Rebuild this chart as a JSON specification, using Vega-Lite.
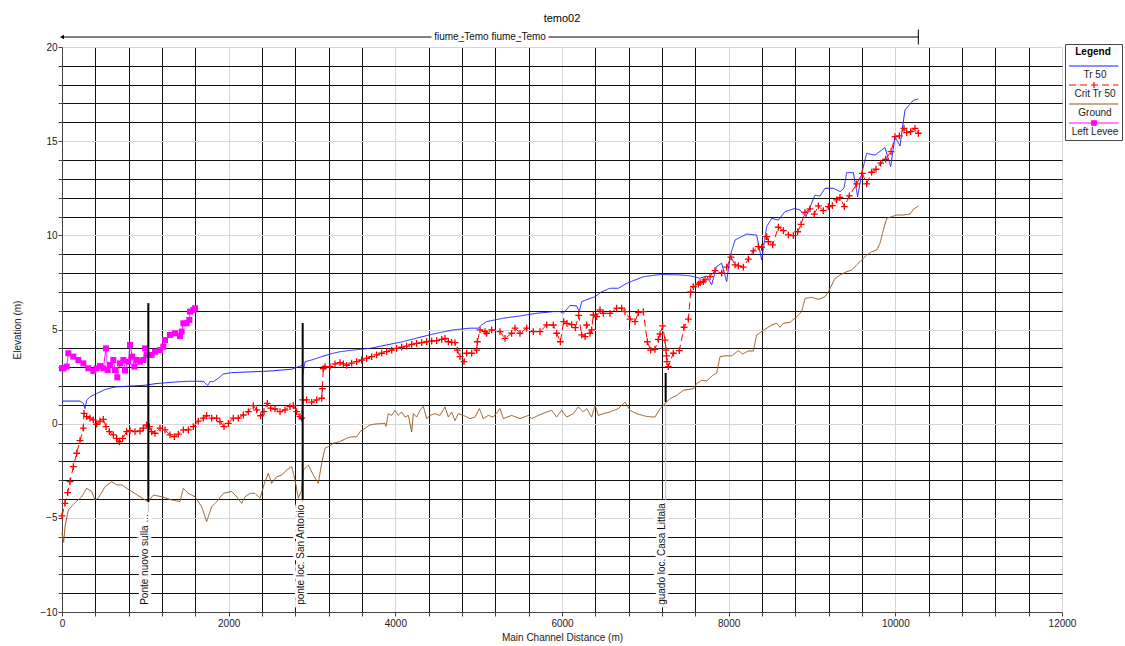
{
 "$schema": "https://vega.github.io/schema/vega-lite/v6.json",
 "width": 1000,
 "height": 565,
 "autosize": {"type": "none"},
 "padding": {"left": 62, "top": 47, "right": 63, "bottom": 34},
 "background": "white",
 "title": {"text": "temo02", "fontSize": 11, "font": "Liberation Sans", "fontWeight": "normal", "color": "#000", "anchor": "middle", "offset": 4},
 "config": {
  "view": {"stroke": null},
  "font": "Liberation Sans",
  "axis": {"labelFont": "Liberation Sans", "titleFont": "Liberation Sans", "labelFontSize": 10, "titleFontSize": 10, "titleFontWeight": "normal", "labelColor": "#222", "titleColor": "#222", "domainColor": "#444", "tickColor": "#444", "gridWidth": 1, "gridOpacity": 1, "tickSize": 4}
 },
 "datasets": {
  "profile": [
   {"series":"Ground","dist":0,"elev":-5.8},{"series":"Ground","dist":20,"elev":-6.3},{"series":"Ground","dist":36,"elev":-5.47},{"series":"Ground","dist":76,"elev":-4.58},{"series":"Ground","dist":156,"elev":-4.2},{"series":"Ground","dist":236,"elev":-3.88},{"series":"Ground","dist":296,"elev":-3.43},{"series":"Ground","dist":356,"elev":-3.6},{"series":"Ground","dist":396,"elev":-4.05},{"series":"Ground","dist":436,"elev":-3.95},{"series":"Ground","dist":516,"elev":-3.35},{"series":"Ground","dist":596,"elev":-3.08},{"series":"Ground","dist":656,"elev":-3.25},{"series":"Ground","dist":716,"elev":-3.25},{"series":"Ground","dist":776,"elev":-3.43},{"series":"Ground","dist":836,"elev":-3.6},{"series":"Ground","dist":936,"elev":-3.88},{"series":"Ground","dist":996,"elev":-4.05},{"series":"Ground","dist":1036,"elev":-4.14},{"series":"Ground","dist":1096,"elev":-3.79},{"series":"Ground","dist":1196,"elev":-3.88},{"series":"Ground","dist":1316,"elev":-4.05},{"series":"Ground","dist":1416,"elev":-4.14},{"series":"Ground","dist":1456,"elev":-3.43},{"series":"Ground","dist":1516,"elev":-3.7},{"series":"Ground","dist":1596,"elev":-3.88},{"series":"Ground","dist":1676,"elev":-4.41},{"series":"Ground","dist":1736,"elev":-5.2},{"series":"Ground","dist":1796,"elev":-4.41},{"series":"Ground","dist":1876,"elev":-4.05},{"series":"Ground","dist":1936,"elev":-3.7},{"series":"Ground","dist":2036,"elev":-3.6},{"series":"Ground","dist":2096,"elev":-3.88},{"series":"Ground","dist":2156,"elev":-4.23},{"series":"Ground","dist":2196,"elev":-3.88},{"series":"Ground","dist":2256,"elev":-3.7},{"series":"Ground","dist":2316,"elev":-3.7},{"series":"Ground","dist":2376,"elev":-3.96},{"series":"Ground","dist":2436,"elev":-3.08},{"series":"Ground","dist":2476,"elev":-2.64},{"series":"Ground","dist":2516,"elev":-3.17},{"series":"Ground","dist":2576,"elev":-2.82},{"series":"Ground","dist":2636,"elev":-2.73},{"series":"Ground","dist":2696,"elev":-2.46},{"series":"Ground","dist":2756,"elev":-2.28},{"series":"Ground","dist":2796,"elev":-2.99},{"series":"Ground","dist":2836,"elev":-3.96},{"series":"Ground","dist":2876,"elev":-3.52},{"series":"Ground","dist":2896,"elev":-2.46},{"series":"Ground","dist":2956,"elev":-2.2},{"series":"Ground","dist":3016,"elev":-2.73},{"series":"Ground","dist":3076,"elev":-3.17},{"series":"Ground","dist":3116,"elev":-2.1},{"series":"Ground","dist":3156,"elev":-1.3},{"series":"Ground","dist":3196,"elev":-1.22},{"series":"Ground","dist":3256,"elev":-1.04},{"series":"Ground","dist":3336,"elev":-0.95},{"series":"Ground","dist":3416,"elev":-0.77},{"series":"Ground","dist":3476,"elev":-0.7},{"series":"Ground","dist":3536,"elev":-0.7},{"series":"Ground","dist":3576,"elev":-0.42},{"series":"Ground","dist":3636,"elev":-0.24},{"series":"Ground","dist":3696,"elev":-0.07},{"series":"Ground","dist":3756,"elev":-0.02},{"series":"Ground","dist":3876,"elev":0.02},{"series":"Ground","dist":3888,"elev":-0.14},{"series":"Ground","dist":3916,"elev":0.53},{"series":"Ground","dist":3956,"elev":0.44},{"series":"Ground","dist":3996,"elev":0.71},{"series":"Ground","dist":4036,"elev":0.44},{"series":"Ground","dist":4076,"elev":0.62},{"series":"Ground","dist":4116,"elev":0.35},{"series":"Ground","dist":4156,"elev":0.44},{"series":"Ground","dist":4196,"elev":-0.44},{"series":"Ground","dist":4216,"elev":0.53},{"series":"Ground","dist":4256,"elev":0.35},{"series":"Ground","dist":4296,"elev":0.71},{"series":"Ground","dist":4336,"elev":0.92},{"series":"Ground","dist":4376,"elev":0.27},{"series":"Ground","dist":4416,"elev":0.44},{"series":"Ground","dist":4476,"elev":0.53},{"series":"Ground","dist":4536,"elev":0.44},{"series":"Ground","dist":4596,"elev":0.89},{"series":"Ground","dist":4636,"elev":0.35},{"series":"Ground","dist":4676,"elev":0.62},{"series":"Ground","dist":4716,"elev":0.16},{"series":"Ground","dist":4756,"elev":0.53},{"series":"Ground","dist":4816,"elev":0.44},{"series":"Ground","dist":4896,"elev":0.27},{"series":"Ground","dist":4956,"elev":0.35},{"series":"Ground","dist":5008,"elev":0.8},{"series":"Ground","dist":5056,"elev":0.27},{"series":"Ground","dist":5116,"elev":0.44},{"series":"Ground","dist":5176,"elev":0.35},{"series":"Ground","dist":5256,"elev":0.8},{"series":"Ground","dist":5296,"elev":0.27},{"series":"Ground","dist":5396,"elev":0.44},{"series":"Ground","dist":5496,"elev":0.27},{"series":"Ground","dist":5596,"elev":0.44},{"series":"Ground","dist":5636,"elev":0.27},{"series":"Ground","dist":5716,"elev":0.44},{"series":"Ground","dist":5816,"elev":0.62},{"series":"Ground","dist":5876,"elev":0.71},{"series":"Ground","dist":5936,"elev":0.35},{"series":"Ground","dist":5996,"elev":0.71},{"series":"Ground","dist":6056,"elev":0.35},{"series":"Ground","dist":6136,"elev":0.53},{"series":"Ground","dist":6196,"elev":0.89},{"series":"Ground","dist":6256,"elev":0.62},{"series":"Ground","dist":6296,"elev":0.8},{"series":"Ground","dist":6356,"elev":0.35},{"series":"Ground","dist":6396,"elev":0.98},{"series":"Ground","dist":6436,"elev":0.44},{"series":"Ground","dist":6496,"elev":0.53},{"series":"Ground","dist":6576,"elev":0.62},{"series":"Ground","dist":6676,"elev":0.8},{"series":"Ground","dist":6756,"elev":1.15},{"series":"Ground","dist":6816,"elev":0.71},{"series":"Ground","dist":6896,"elev":0.53},{"series":"Ground","dist":7016,"elev":0.38},{"series":"Ground","dist":7116,"elev":0.35},{"series":"Ground","dist":7176,"elev":0.8},{"series":"Ground","dist":7236,"elev":1.06},{"series":"Ground","dist":7296,"elev":1.33},{"series":"Ground","dist":7376,"elev":1.5},{"series":"Ground","dist":7456,"elev":1.77},{"series":"Ground","dist":7576,"elev":1.86},{"series":"Ground","dist":7616,"elev":2.13},{"series":"Ground","dist":7676,"elev":2.3},{"series":"Ground","dist":7736,"elev":2.27},{"series":"Ground","dist":7816,"elev":2.59},{"series":"Ground","dist":7856,"elev":2.68},{"series":"Ground","dist":7896,"elev":3.56},{"series":"Ground","dist":7956,"elev":3.6},{"series":"Ground","dist":8036,"elev":3.6},{"series":"Ground","dist":8116,"elev":3.88},{"series":"Ground","dist":8168,"elev":3.7},{"series":"Ground","dist":8236,"elev":3.86},{"series":"Ground","dist":8296,"elev":3.86},{"series":"Ground","dist":8336,"elev":4.71},{"series":"Ground","dist":8376,"elev":4.83},{"series":"Ground","dist":8436,"elev":5.01},{"series":"Ground","dist":8516,"elev":5.24},{"series":"Ground","dist":8576,"elev":5.33},{"series":"Ground","dist":8616,"elev":5.12},{"series":"Ground","dist":8656,"elev":5.33},{"series":"Ground","dist":8736,"elev":5.38},{"series":"Ground","dist":8816,"elev":5.68},{"series":"Ground","dist":8876,"elev":5.95},{"series":"Ground","dist":8916,"elev":6.65},{"series":"Ground","dist":8996,"elev":6.71},{"series":"Ground","dist":9076,"elev":6.6},{"series":"Ground","dist":9156,"elev":6.74},{"series":"Ground","dist":9196,"elev":7.0},{"series":"Ground","dist":9276,"elev":7.71},{"series":"Ground","dist":9336,"elev":7.89},{"series":"Ground","dist":9416,"elev":8.07},{"series":"Ground","dist":9476,"elev":8.15},{"series":"Ground","dist":9536,"elev":8.43},{"series":"Ground","dist":9596,"elev":8.69},{"series":"Ground","dist":9656,"elev":8.95},{"series":"Ground","dist":9716,"elev":9.13},{"series":"Ground","dist":9776,"elev":9.22},{"series":"Ground","dist":9816,"elev":9.58},{"series":"Ground","dist":9856,"elev":10.28},{"series":"Ground","dist":9896,"elev":10.9},{"series":"Ground","dist":9956,"elev":10.99},{"series":"Ground","dist":10016,"elev":11.08},{"series":"Ground","dist":10096,"elev":11.08},{"series":"Ground","dist":10176,"elev":11.13},{"series":"Ground","dist":10216,"elev":11.38},{"series":"Ground","dist":10276,"elev":11.56},
   {"series":"Tr 50","dist":0,"elev":1.2},{"series":"Tr 50","dist":216,"elev":1.2},{"series":"Tr 50","dist":256,"elev":1.08},{"series":"Tr 50","dist":276,"elev":0.8},{"series":"Tr 50","dist":296,"elev":1.25},{"series":"Tr 50","dist":336,"elev":1.42},{"series":"Tr 50","dist":416,"elev":1.6},{"series":"Tr 50","dist":516,"elev":1.81},{"series":"Tr 50","dist":636,"elev":1.95},{"series":"Tr 50","dist":796,"elev":1.99},{"series":"Tr 50","dist":996,"elev":2.04},{"series":"Tr 50","dist":1116,"elev":2.12},{"series":"Tr 50","dist":1316,"elev":2.2},{"series":"Tr 50","dist":1516,"elev":2.25},{"series":"Tr 50","dist":1696,"elev":2.25},{"series":"Tr 50","dist":1724,"elev":2.12},{"series":"Tr 50","dist":1748,"elev":2.02},{"series":"Tr 50","dist":1776,"elev":2.23},{"series":"Tr 50","dist":1816,"elev":2.23},{"series":"Tr 50","dist":1876,"elev":2.41},{"series":"Tr 50","dist":1936,"elev":2.64},{"series":"Tr 50","dist":2036,"elev":2.71},{"series":"Tr 50","dist":2316,"elev":2.76},{"series":"Tr 50","dist":2516,"elev":2.8},{"series":"Tr 50","dist":2636,"elev":2.85},{"series":"Tr 50","dist":2756,"elev":2.89},{"series":"Tr 50","dist":2836,"elev":3.03},{"series":"Tr 50","dist":2884,"elev":3.1},{"series":"Tr 50","dist":2888,"elev":2.59},{"series":"Tr 50","dist":2916,"elev":3.29},{"series":"Tr 50","dist":2996,"elev":3.38},{"series":"Tr 50","dist":3116,"elev":3.56},{"series":"Tr 50","dist":3236,"elev":3.72},{"series":"Tr 50","dist":3336,"elev":3.82},{"series":"Tr 50","dist":3496,"elev":3.91},{"series":"Tr 50","dist":3696,"elev":4.0},{"series":"Tr 50","dist":3896,"elev":4.18},{"series":"Tr 50","dist":4096,"elev":4.36},{"series":"Tr 50","dist":4296,"elev":4.59},{"series":"Tr 50","dist":4496,"elev":4.8},{"series":"Tr 50","dist":4696,"elev":4.98},{"series":"Tr 50","dist":4896,"elev":5.07},{"series":"Tr 50","dist":4996,"elev":5.07},{"series":"Tr 50","dist":5036,"elev":5.24},{"series":"Tr 50","dist":5096,"elev":5.42},{"series":"Tr 50","dist":5296,"elev":5.6},{"series":"Tr 50","dist":5496,"elev":5.72},{"series":"Tr 50","dist":5696,"elev":5.86},{"series":"Tr 50","dist":5896,"elev":5.95},{"series":"Tr 50","dist":5976,"elev":5.95},{"series":"Tr 50","dist":6016,"elev":5.86},{"series":"Tr 50","dist":6096,"elev":6.28},{"series":"Tr 50","dist":6176,"elev":6.25},{"series":"Tr 50","dist":6208,"elev":5.95},{"series":"Tr 50","dist":6236,"elev":6.48},{"series":"Tr 50","dist":6336,"elev":6.65},{"series":"Tr 50","dist":6396,"elev":6.74},{"series":"Tr 50","dist":6476,"elev":7.0},{"series":"Tr 50","dist":6576,"elev":7.19},{"series":"Tr 50","dist":6676,"elev":7.19},{"series":"Tr 50","dist":6776,"elev":7.45},{"series":"Tr 50","dist":6876,"elev":7.63},{"series":"Tr 50","dist":6976,"elev":7.8},{"series":"Tr 50","dist":7176,"elev":7.92},{"series":"Tr 50","dist":7400,"elev":7.9},{"series":"Tr 50","dist":7536,"elev":7.85},{"series":"Tr 50","dist":7656,"elev":7.72},{"series":"Tr 50","dist":7736,"elev":7.84},{"series":"Tr 50","dist":7796,"elev":7.37},{"series":"Tr 50","dist":7856,"elev":8.34},{"series":"Tr 50","dist":7916,"elev":8.52},{"series":"Tr 50","dist":7976,"elev":7.54},{"series":"Tr 50","dist":8016,"elev":8.87},{"series":"Tr 50","dist":8076,"elev":9.75},{"series":"Tr 50","dist":8216,"elev":10.07},{"series":"Tr 50","dist":8336,"elev":10.01},{"series":"Tr 50","dist":8396,"elev":8.69},{"series":"Tr 50","dist":8456,"elev":10.46},{"series":"Tr 50","dist":8516,"elev":10.9},{"series":"Tr 50","dist":8596,"elev":10.81},{"series":"Tr 50","dist":8676,"elev":11.26},{"series":"Tr 50","dist":8796,"elev":11.43},{"series":"Tr 50","dist":8856,"elev":11.34},{"series":"Tr 50","dist":8928,"elev":10.99},{"series":"Tr 50","dist":9036,"elev":12.14},{"series":"Tr 50","dist":9096,"elev":12.08},{"series":"Tr 50","dist":9156,"elev":12.5},{"series":"Tr 50","dist":9256,"elev":12.5},{"series":"Tr 50","dist":9336,"elev":12.32},{"series":"Tr 50","dist":9384,"elev":12.5},{"series":"Tr 50","dist":9416,"elev":13.33},{"series":"Tr 50","dist":9496,"elev":13.33},{"series":"Tr 50","dist":9548,"elev":12.05},{"series":"Tr 50","dist":9596,"elev":13.29},{"series":"Tr 50","dist":9656,"elev":14.35},{"series":"Tr 50","dist":9756,"elev":14.26},{"series":"Tr 50","dist":9876,"elev":14.66},{"series":"Tr 50","dist":9944,"elev":13.65},{"series":"Tr 50","dist":9996,"elev":15.24},{"series":"Tr 50","dist":10056,"elev":14.75},{"series":"Tr 50","dist":10116,"elev":16.66},{"series":"Tr 50","dist":10216,"elev":17.17},{"series":"Tr 50","dist":10276,"elev":17.24},
   {"series":"Crit Tr 50","dist":0,"elev":-4.9},{"series":"Crit Tr 50","dist":36,"elev":-4.23},{"series":"Crit Tr 50","dist":68,"elev":-3.66},{"series":"Crit Tr 50","dist":96,"elev":-3.08},{"series":"Crit Tr 50","dist":136,"elev":-2.28},{"series":"Crit Tr 50","dist":176,"elev":-1.57},{"series":"Crit Tr 50","dist":216,"elev":-0.9},{"series":"Crit Tr 50","dist":256,"elev":-0.24},{"series":"Crit Tr 50","dist":264,"elev":0.55},{"series":"Crit Tr 50","dist":296,"elev":0.37},{"series":"Crit Tr 50","dist":336,"elev":0.29},{"series":"Crit Tr 50","dist":376,"elev":0.2},{"series":"Crit Tr 50","dist":416,"elev":-0.03},{"series":"Crit Tr 50","dist":456,"elev":0.14},{"series":"Crit Tr 50","dist":496,"elev":0.23},{"series":"Crit Tr 50","dist":528,"elev":-0.16},{"series":"Crit Tr 50","dist":568,"elev":-0.42},{"series":"Crit Tr 50","dist":616,"elev":-0.6},{"series":"Crit Tr 50","dist":656,"elev":-0.78},{"series":"Crit Tr 50","dist":688,"elev":-0.96},{"series":"Crit Tr 50","dist":728,"elev":-0.78},{"series":"Crit Tr 50","dist":776,"elev":-0.42},{"series":"Crit Tr 50","dist":816,"elev":-0.37},{"series":"Crit Tr 50","dist":876,"elev":-0.42},{"series":"Crit Tr 50","dist":936,"elev":-0.39},{"series":"Crit Tr 50","dist":976,"elev":-0.24},{"series":"Crit Tr 50","dist":1016,"elev":-0.07},{"series":"Crit Tr 50","dist":1048,"elev":-0.16},{"series":"Crit Tr 50","dist":1076,"elev":-0.42},{"series":"Crit Tr 50","dist":1116,"elev":-0.51},{"series":"Crit Tr 50","dist":1176,"elev":-0.24},{"series":"Crit Tr 50","dist":1236,"elev":-0.33},{"series":"Crit Tr 50","dist":1296,"elev":-0.6},{"series":"Crit Tr 50","dist":1348,"elev":-0.69},{"series":"Crit Tr 50","dist":1396,"elev":-0.56},{"series":"Crit Tr 50","dist":1456,"elev":-0.33},{"series":"Crit Tr 50","dist":1516,"elev":-0.33},{"series":"Crit Tr 50","dist":1576,"elev":-0.16},{"series":"Crit Tr 50","dist":1636,"elev":0.14},{"series":"Crit Tr 50","dist":1696,"elev":0.29},{"series":"Crit Tr 50","dist":1736,"elev":0.42},{"series":"Crit Tr 50","dist":1796,"elev":0.29},{"series":"Crit Tr 50","dist":1856,"elev":0.29},{"series":"Crit Tr 50","dist":1896,"elev":0.11},{"series":"Crit Tr 50","dist":1944,"elev":-0.16},{"series":"Crit Tr 50","dist":1996,"elev":0.02},{"series":"Crit Tr 50","dist":2056,"elev":0.29},{"series":"Crit Tr 50","dist":2116,"elev":0.29},{"series":"Crit Tr 50","dist":2176,"elev":0.46},{"series":"Crit Tr 50","dist":2236,"elev":0.64},{"series":"Crit Tr 50","dist":2296,"elev":0.96},{"series":"Crit Tr 50","dist":2336,"elev":0.73},{"series":"Crit Tr 50","dist":2384,"elev":0.42},{"series":"Crit Tr 50","dist":2424,"elev":0.64},{"series":"Crit Tr 50","dist":2464,"elev":1.08},{"series":"Crit Tr 50","dist":2504,"elev":0.82},{"series":"Crit Tr 50","dist":2556,"elev":0.78},{"series":"Crit Tr 50","dist":2616,"elev":0.64},{"series":"Crit Tr 50","dist":2676,"elev":0.73},{"series":"Crit Tr 50","dist":2736,"elev":0.9},{"series":"Crit Tr 50","dist":2776,"elev":0.96},{"series":"Crit Tr 50","dist":2816,"elev":0.64},{"series":"Crit Tr 50","dist":2856,"elev":0.37},{"series":"Crit Tr 50","dist":2876,"elev":0.29},{"series":"Crit Tr 50","dist":2888,"elev":1.26},{"series":"Crit Tr 50","dist":2936,"elev":1.26},{"series":"Crit Tr 50","dist":2996,"elev":1.14},{"series":"Crit Tr 50","dist":3056,"elev":1.26},{"series":"Crit Tr 50","dist":3116,"elev":1.35},{"series":"Crit Tr 50","dist":3124,"elev":1.86},{"series":"Crit Tr 50","dist":3136,"elev":2.92},{"series":"Crit Tr 50","dist":3156,"elev":3.03},{"series":"Crit Tr 50","dist":3216,"elev":3.03},{"series":"Crit Tr 50","dist":3276,"elev":3.17},{"series":"Crit Tr 50","dist":3336,"elev":3.24},{"series":"Crit Tr 50","dist":3376,"elev":3.17},{"series":"Crit Tr 50","dist":3416,"elev":3.1},{"series":"Crit Tr 50","dist":3476,"elev":3.21},{"series":"Crit Tr 50","dist":3536,"elev":3.29},{"series":"Crit Tr 50","dist":3596,"elev":3.38},{"series":"Crit Tr 50","dist":3656,"elev":3.47},{"series":"Crit Tr 50","dist":3716,"elev":3.56},{"series":"Crit Tr 50","dist":3776,"elev":3.65},{"series":"Crit Tr 50","dist":3836,"elev":3.74},{"series":"Crit Tr 50","dist":3896,"elev":3.82},{"series":"Crit Tr 50","dist":3956,"elev":3.91},{"series":"Crit Tr 50","dist":4016,"elev":4.0},{"series":"Crit Tr 50","dist":4076,"elev":4.06},{"series":"Crit Tr 50","dist":4136,"elev":4.12},{"series":"Crit Tr 50","dist":4196,"elev":4.21},{"series":"Crit Tr 50","dist":4256,"elev":4.26},{"series":"Crit Tr 50","dist":4316,"elev":4.3},{"series":"Crit Tr 50","dist":4376,"elev":4.35},{"series":"Crit Tr 50","dist":4436,"elev":4.39},{"series":"Crit Tr 50","dist":4496,"elev":4.41},{"series":"Crit Tr 50","dist":4556,"elev":4.48},{"series":"Crit Tr 50","dist":4596,"elev":4.53},{"series":"Crit Tr 50","dist":4636,"elev":4.35},{"series":"Crit Tr 50","dist":4676,"elev":4.32},{"series":"Crit Tr 50","dist":4716,"elev":4.3},{"series":"Crit Tr 50","dist":4744,"elev":3.91},{"series":"Crit Tr 50","dist":4776,"elev":3.56},{"series":"Crit Tr 50","dist":4824,"elev":3.29},{"series":"Crit Tr 50","dist":4856,"elev":3.74},{"series":"Crit Tr 50","dist":4916,"elev":3.74},{"series":"Crit Tr 50","dist":4976,"elev":3.91},{"series":"Crit Tr 50","dist":4984,"elev":4.35},{"series":"Crit Tr 50","dist":5016,"elev":4.98},{"series":"Crit Tr 50","dist":5076,"elev":4.89},{"series":"Crit Tr 50","dist":5096,"elev":4.8},{"series":"Crit Tr 50","dist":5156,"elev":4.98},{"series":"Crit Tr 50","dist":5256,"elev":4.89},{"series":"Crit Tr 50","dist":5316,"elev":4.53},{"series":"Crit Tr 50","dist":5396,"elev":4.8},{"series":"Crit Tr 50","dist":5436,"elev":5.07},{"series":"Crit Tr 50","dist":5496,"elev":4.8},{"series":"Crit Tr 50","dist":5576,"elev":5.07},{"series":"Crit Tr 50","dist":5656,"elev":4.89},{"series":"Crit Tr 50","dist":5736,"elev":4.89},{"series":"Crit Tr 50","dist":5816,"elev":5.24},{"series":"Crit Tr 50","dist":5896,"elev":5.24},{"series":"Crit Tr 50","dist":5936,"elev":4.8},{"series":"Crit Tr 50","dist":5980,"elev":4.35},{"series":"Crit Tr 50","dist":6020,"elev":5.42},{"series":"Crit Tr 50","dist":6060,"elev":5.33},{"series":"Crit Tr 50","dist":6116,"elev":5.26},{"series":"Crit Tr 50","dist":6160,"elev":5.1},{"series":"Crit Tr 50","dist":6200,"elev":5.75},{"series":"Crit Tr 50","dist":6236,"elev":4.71},{"series":"Crit Tr 50","dist":6276,"elev":4.62},{"series":"Crit Tr 50","dist":6296,"elev":5.24},{"series":"Crit Tr 50","dist":6336,"elev":4.8},{"series":"Crit Tr 50","dist":6356,"elev":4.98},{"series":"Crit Tr 50","dist":6376,"elev":5.77},{"series":"Crit Tr 50","dist":6416,"elev":5.68},{"series":"Crit Tr 50","dist":6456,"elev":6.04},{"series":"Crit Tr 50","dist":6496,"elev":5.86},{"series":"Crit Tr 50","dist":6576,"elev":5.86},{"series":"Crit Tr 50","dist":6656,"elev":6.13},{"series":"Crit Tr 50","dist":6716,"elev":6.13},{"series":"Crit Tr 50","dist":6756,"elev":5.95},{"series":"Crit Tr 50","dist":6816,"elev":5.55},{"series":"Crit Tr 50","dist":6876,"elev":5.42},{"series":"Crit Tr 50","dist":6916,"elev":5.9},{"series":"Crit Tr 50","dist":6976,"elev":5.95},{"series":"Crit Tr 50","dist":7024,"elev":4.35},{"series":"Crit Tr 50","dist":7064,"elev":3.91},{"series":"Crit Tr 50","dist":7116,"elev":3.95},{"series":"Crit Tr 50","dist":7156,"elev":4.48},{"series":"Crit Tr 50","dist":7176,"elev":4.76},{"series":"Crit Tr 50","dist":7208,"elev":5.19},{"series":"Crit Tr 50","dist":7236,"elev":4.44},{"series":"Crit Tr 50","dist":7248,"elev":3.91},{"series":"Crit Tr 50","dist":7254,"elev":3.6},{"series":"Crit Tr 50","dist":7260,"elev":3.29},{"series":"Crit Tr 50","dist":7276,"elev":3.03},{"series":"Crit Tr 50","dist":7336,"elev":3.74},{"series":"Crit Tr 50","dist":7408,"elev":3.88},{"series":"Crit Tr 50","dist":7464,"elev":5.12},{"series":"Crit Tr 50","dist":7516,"elev":5.55},{"series":"Crit Tr 50","dist":7544,"elev":7.0},{"series":"Crit Tr 50","dist":7576,"elev":7.27},{"series":"Crit Tr 50","dist":7636,"elev":7.41},{"series":"Crit Tr 50","dist":7656,"elev":7.49},{"series":"Crit Tr 50","dist":7696,"elev":7.54},{"series":"Crit Tr 50","dist":7716,"elev":7.63},{"series":"Crit Tr 50","dist":7776,"elev":7.81},{"series":"Crit Tr 50","dist":7836,"elev":8.13},{"series":"Crit Tr 50","dist":7916,"elev":7.99},{"series":"Crit Tr 50","dist":7976,"elev":8.31},{"series":"Crit Tr 50","dist":8028,"elev":8.84},{"series":"Crit Tr 50","dist":8076,"elev":8.43},{"series":"Crit Tr 50","dist":8116,"elev":8.38},{"series":"Crit Tr 50","dist":8176,"elev":8.31},{"series":"Crit Tr 50","dist":8236,"elev":8.74},{"series":"Crit Tr 50","dist":8296,"elev":9.18},{"series":"Crit Tr 50","dist":8356,"elev":9.4},{"series":"Crit Tr 50","dist":8396,"elev":9.36},{"series":"Crit Tr 50","dist":8456,"elev":9.93},{"series":"Crit Tr 50","dist":8476,"elev":9.66},{"series":"Crit Tr 50","dist":8528,"elev":9.49},{"series":"Crit Tr 50","dist":8596,"elev":10.43},{"series":"Crit Tr 50","dist":8656,"elev":10.25},{"series":"Crit Tr 50","dist":8716,"elev":10.02},{"series":"Crit Tr 50","dist":8776,"elev":9.98},{"series":"Crit Tr 50","dist":8828,"elev":10.19},{"series":"Crit Tr 50","dist":8868,"elev":10.58},{"series":"Crit Tr 50","dist":8916,"elev":11.22},{"series":"Crit Tr 50","dist":8976,"elev":11.4},{"series":"Crit Tr 50","dist":9028,"elev":11.13},{"series":"Crit Tr 50","dist":9076,"elev":11.56},{"series":"Crit Tr 50","dist":9136,"elev":11.31},{"series":"Crit Tr 50","dist":9196,"elev":11.52},{"series":"Crit Tr 50","dist":9244,"elev":11.58},{"series":"Crit Tr 50","dist":9296,"elev":11.88},{"series":"Crit Tr 50","dist":9336,"elev":12.02},{"series":"Crit Tr 50","dist":9388,"elev":11.52},{"series":"Crit Tr 50","dist":9448,"elev":12.09},{"series":"Crit Tr 50","dist":9536,"elev":12.73},{"series":"Crit Tr 50","dist":9604,"elev":13.29},{"series":"Crit Tr 50","dist":9656,"elev":12.73},{"series":"Crit Tr 50","dist":9716,"elev":13.35},{"series":"Crit Tr 50","dist":9768,"elev":13.51},{"series":"Crit Tr 50","dist":9824,"elev":13.83},{"series":"Crit Tr 50","dist":9884,"elev":14.04},{"series":"Crit Tr 50","dist":9948,"elev":14.44},{"series":"Crit Tr 50","dist":9996,"elev":15.24},{"series":"Crit Tr 50","dist":10048,"elev":15.28},{"series":"Crit Tr 50","dist":10104,"elev":15.68},{"series":"Crit Tr 50","dist":10136,"elev":15.45},{"series":"Crit Tr 50","dist":10184,"elev":15.51},{"series":"Crit Tr 50","dist":10236,"elev":15.68},{"series":"Crit Tr 50","dist":10276,"elev":15.42},
   {"series":"Left Levee","dist":0,"elev":2.94},{"series":"Left Levee","dist":16,"elev":2.94},{"series":"Left Levee","dist":56,"elev":3.03},{"series":"Left Levee","dist":76,"elev":3.74},{"series":"Left Levee","dist":136,"elev":3.56},{"series":"Left Levee","dist":196,"elev":3.38},{"series":"Left Levee","dist":256,"elev":3.2},{"series":"Left Levee","dist":316,"elev":2.94},{"series":"Left Levee","dist":376,"elev":2.8},{"series":"Left Levee","dist":416,"elev":2.94},{"series":"Left Levee","dist":456,"elev":3.06},{"series":"Left Levee","dist":496,"elev":2.94},{"series":"Left Levee","dist":528,"elev":4.0},{"series":"Left Levee","dist":548,"elev":2.85},{"series":"Left Levee","dist":576,"elev":3.12},{"series":"Left Levee","dist":616,"elev":3.38},{"series":"Left Levee","dist":636,"elev":2.85},{"series":"Left Levee","dist":664,"elev":2.46},{"series":"Left Levee","dist":696,"elev":3.2},{"series":"Left Levee","dist":736,"elev":3.38},{"series":"Left Levee","dist":756,"elev":2.82},{"series":"Left Levee","dist":796,"elev":3.29},{"series":"Left Levee","dist":816,"elev":4.18},{"series":"Left Levee","dist":844,"elev":3.56},{"series":"Left Levee","dist":868,"elev":3.03},{"series":"Left Levee","dist":896,"elev":3.38},{"series":"Left Levee","dist":936,"elev":3.29},{"series":"Left Levee","dist":976,"elev":3.38},{"series":"Left Levee","dist":996,"elev":4.0},{"series":"Left Levee","dist":1016,"elev":3.65},{"series":"Left Levee","dist":1044,"elev":3.65},{"series":"Left Levee","dist":1076,"elev":3.65},{"series":"Left Levee","dist":1116,"elev":3.82},{"series":"Left Levee","dist":1176,"elev":3.91},{"series":"Left Levee","dist":1216,"elev":4.09},{"series":"Left Levee","dist":1236,"elev":4.44},{"series":"Left Levee","dist":1296,"elev":4.71},{"series":"Left Levee","dist":1356,"elev":4.8},{"series":"Left Levee","dist":1416,"elev":4.65},{"series":"Left Levee","dist":1436,"elev":4.89},{"series":"Left Levee","dist":1456,"elev":5.33},{"series":"Left Levee","dist":1496,"elev":5.33},{"series":"Left Levee","dist":1528,"elev":5.51},{"series":"Left Levee","dist":1536,"elev":5.95},{"series":"Left Levee","dist":1576,"elev":6.04},{"series":"Left Levee","dist":1596,"elev":6.13}
  ],
  "bridges": [
   {"name":"Ponte nuovo sulla ...","dist":1036,"elev":6.4,"elev2":-4.16,"labelDist":996,"labelTop":-4.75},
   {"name":"ponte loc. San Antonio","dist":2888,"elev":5.34,"elev2":-4.06,"labelDist":2862,"labelTop":-4.3},
   {"name":"guado loc. Casa Littala","dist":7244,"elev":2.69,"elev2":1.15,"labelDist":7196,"labelTop":-4.55}
  ],
  "reach": [
   {"name":"fiume_Temo fiume_Temo","dist":0,"dist2":10276,"elev":20.53,"mid":5136}
  ]
 },
 "encoding": {
  "x": {"field": "dist", "type": "quantitative", "title": "Main Channel Distance (m)",
   "scale": {"domain": [0, 12000], "nice": false, "zero": false},
   "axis": {"values": [0,400,800,1200,1600,2000,2400,2800,3200,3600,4000,4400,4800,5200,5600,6000,6400,6800,7200,7600,8000,8400,8800,9200,9600,10000,10400,10800,11200,11600,12000],
    "labelExpr": "datum.value % 2000 === 0 ? datum.label : ''", "format": "d", "labelFlush": false, "labelPadding": 2, "titlePadding": 4,
    "grid": true, "gridColor": {"condition": {"test": "datum.value % 2000 === 0", "value": "#d6d6d6"}, "value": "#111111"}}},
  "y": {"field": "elev", "type": "quantitative", "title": "Elevation (m)",
   "scale": {"domain": [-10, 20], "nice": false, "zero": false},
   "axis": {"values": [-10,-9,-8,-7,-6,-5,-4,-3,-2,-1,0,1,2,3,4,5,6,7,8,9,10,11,12,13,14,15,16,17,18,19,20],
    "labelExpr": "datum.value % 5 === 0 ? datum.label : ''", "labelPadding": 1, "titlePadding": 18, "labelFlush": false,
    "grid": true, "gridColor": {"condition": {"test": "datum.value % 5 === 0", "value": "#d6d6d6"}, "value": "#111111"}}}
 },
 "layer": [
  {"data": {"name": "bridges"}, "mark": {"type": "rule", "color": "#bdbdbd", "strokeWidth": 1},
   "encoding": {"x": {"field": "dist", "type": "quantitative"}, "y": {"field": "labelTop", "type": "quantitative"}, "y2": {"field": "elev2"}}},
  {"data": {"name": "profile"}, "mark": {"type": "line", "strokeWidth": 1},
   "encoding": {
    "color": {"field": "series", "type": "nominal",
     "scale": {"domain": ["Tr 50", "Crit Tr 50", "Ground", "Left Levee"], "range": ["#1f1fff", "#ff0000", "#93561c", "#ff00ff"]},
     "legend": {"orient": "none", "legendX": 1003, "legendY": -3, "title": "Legend", "titleFontWeight": "bold", "titleFontSize": 10, "titleAnchor": "middle", "titleAlign": "center", "titlePadding": 6,
      "symbolType": "stroke", "symbolSize": 2500, "symbolStrokeWidth": 1.2, "labelFontSize": 10, "labelAlign": "center", "labelOffset": -25, "labelBaseline": "top", "labelColor": "#222",
      "clipHeight": 6, "rowPadding": 2, "padding": 3, "fillColor": "white", "strokeColor": "#444",
      "encode": {"labels": {"update": {"dy": {"value": 4}}},
       "symbols": {"update": {
        "strokeDash": {"signal": "datum.value === 'Crit Tr 50' ? [7,4] : [1,0]"},
        "shape": {"signal": "datum.value === 'Crit Tr 50' ? 'M-1,0H1M0,-0.12V0.12' : datum.value === 'Left Levee' ? 'M-1,0H-0.09M0.09,0H1M-0.09,-0.09H0.09V0.09H-0.09Z' : 'stroke'"},
        "fill": {"signal": "datum.value === 'Left Levee' ? '#ff00ff' : 'transparent'"}}}}}},
    "strokeDash": {"condition": {"test": "datum.series === 'Crit Tr 50'", "value": [7, 4]}, "value": [1, 0]},
    "detail": {"field": "series"}}},
  {"data": {"name": "profile"}, "transform": [{"filter": "datum.series === 'Crit Tr 50'"}],
   "mark": {"type": "point", "shape": "M-1,0H1M0,-1V1", "filled": false, "color": "#ff0000", "strokeWidth": 1.3, "size": 46, "opacity": 1}},
  {"data": {"name": "profile"}, "transform": [{"filter": "datum.series === 'Left Levee'"}],
   "mark": {"type": "point", "shape": "square", "filled": true, "color": "#ff00ff", "size": 36, "opacity": 1}},
  {"data": {"name": "bridges"}, "mark": {"type": "rule", "color": "#000", "strokeWidth": 2},
   "encoding": {"y2": {"field": "elev2"}}},
  {"data": {"name": "bridges"}, "mark": {"type": "text", "angle": 270, "align": "left", "baseline": "middle", "fontSize": 10, "fill": "white", "stroke": "white", "strokeWidth": 6},
   "encoding": {"x": {"field": "labelDist", "type": "quantitative"}, "y": {"datum": -9.62}, "text": {"field": "name"}}},
  {"data": {"name": "bridges"}, "mark": {"type": "text", "angle": 270, "align": "left", "baseline": "middle", "fontSize": 10, "color": "#111"},
   "encoding": {"x": {"field": "labelDist", "type": "quantitative"}, "y": {"datum": -9.62}, "text": {"field": "name"}}},
  {"data": {"name": "reach"}, "mark": {"type": "rule", "color": "#000", "strokeWidth": 1},
   "encoding": {"x2": {"field": "dist2"}}},
  {"data": {"name": "reach"}, "mark": {"type": "point", "shape": "triangle-left", "filled": true, "color": "#000", "size": 22, "opacity": 1}},
  {"data": {"name": "reach"}, "mark": {"type": "point", "shape": "M0,-1V1", "filled": false, "color": "#000", "strokeWidth": 1, "size": 225, "opacity": 1},
   "encoding": {"x": {"field": "dist2", "type": "quantitative"}}},
  {"data": {"name": "reach"}, "mark": {"type": "text", "align": "center", "baseline": "middle", "fontSize": 10, "fill": "white", "stroke": "white", "strokeWidth": 6},
   "encoding": {"x": {"field": "mid", "type": "quantitative"}, "text": {"field": "name"}}},
  {"data": {"name": "reach"}, "mark": {"type": "text", "align": "center", "baseline": "middle", "fontSize": 10, "color": "#111"},
   "encoding": {"x": {"field": "mid", "type": "quantitative"}, "text": {"field": "name"}}}
 ]
}
